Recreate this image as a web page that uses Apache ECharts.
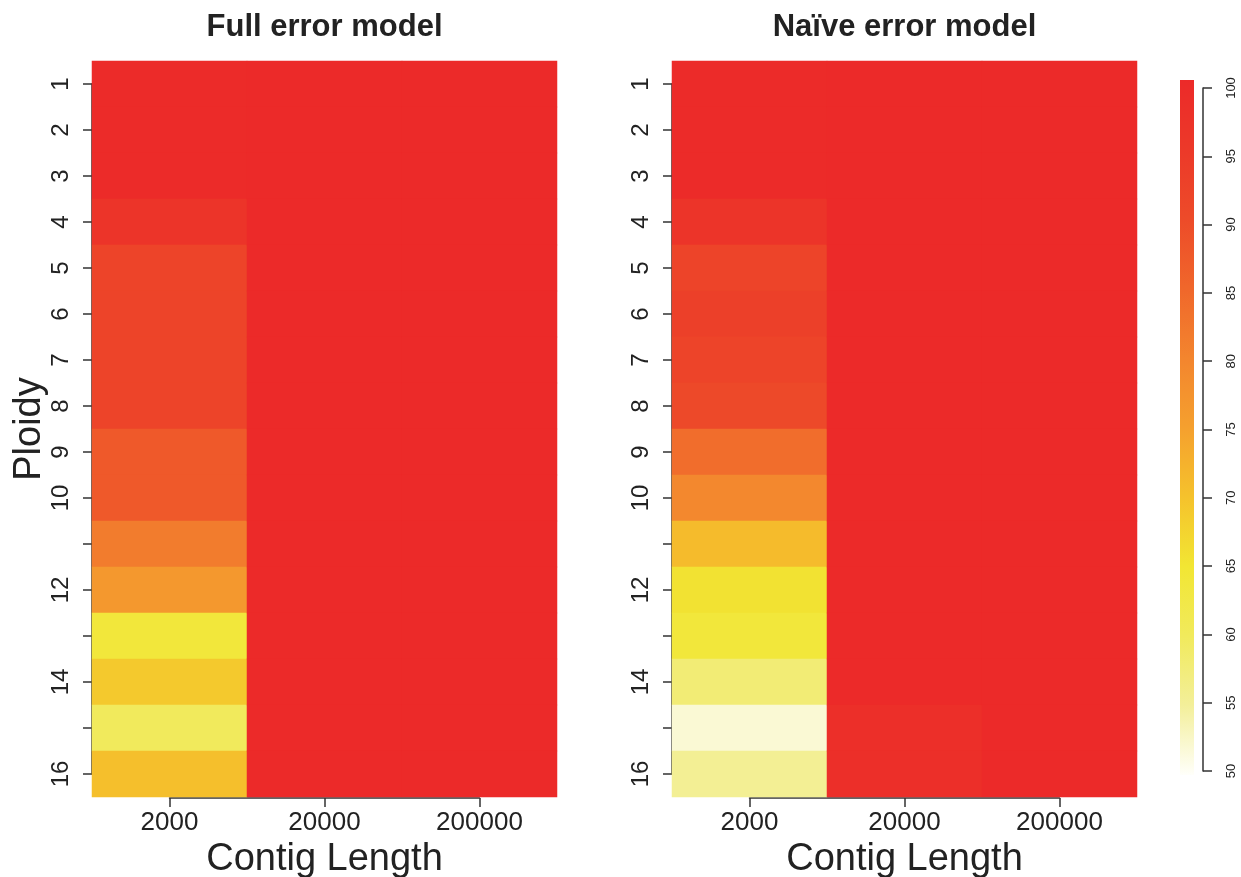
<!DOCTYPE html>
<html>
<head>
<meta charset="utf-8">
<title>Ploidy vs contig length</title>
<script src="https://cdn.jsdelivr.net/npm/echarts@6/dist/echarts.min.js"></script>
<style>
  html, body { margin: 0; padding: 0; background: #ffffff; }
  #chart { width: 1241px; height: 877px; }
</style>
</head>
<body>
<div id="chart"></div>
<script>
// Categories
const contigLengths = ['2000', '20000', '200000'];
const ploidyLevels = ['1', '2', '3', '4', '5', '6', '7', '8', '9', '10', '11', '12', '13', '14', '15', '16'];
const skippedPloidyLabels = ['11', '13', '15'];

// Accuracy (%) per ploidy, one array per contig length — full error model
const full2000   = [99.5, 99.5, 99.5, 96.5, 92, 92, 92, 92, 87.5, 87.5, 81.5, 76.5, 64, 69, 60, 70.5];
const full20000  = [100, 100, 100, 100, 100, 100, 100, 100, 100, 100, 100, 100, 100, 100, 100, 100];
const full200000 = [100, 100, 100, 100, 100, 100, 100, 100, 100, 100, 100, 100, 100, 100, 100, 100];

// Accuracy (%) per ploidy — naive error model
const naive2000   = [99.5, 99.5, 99.5, 96.5, 92, 93, 92, 90.5, 84, 79.5, 71, 65.5, 64, 58, 52, 55.5];
const naive20000  = [100, 100, 100, 100, 100, 100, 100, 100, 100, 100, 100, 100, 100, 100, 98.5, 98.5];
const naive200000 = [100, 100, 100, 100, 100, 100, 100, 100, 100, 100, 100, 100, 100, 100, 100, 100];

const panelTitles = ['Full error model', 'Naïve error model'];

// Colour ramp from 50 (pale) to 100 (red)
const rampColors = ['#fffffa', '#f3ef9a', '#f1ea5c', '#f2e633', '#f5c22c', '#f5a02e',
                    '#f3852e', '#f0672b', '#ed4b29', '#ec3929', '#ec2a29'];
const scaleMin = 50, scaleMax = 100, scaleStep = 5;

function toCells(columns) {
  const cells = [];
  columns.forEach((col, xi) => col.forEach((v, yi) => cells.push([xi, yi, v])));
  return cells;
}
const panelData = [
  toCells([full2000, full20000, full200000]),
  toCells([naive2000, naive20000, naive200000])
];

const FONT = '"Liberation Sans", Arial, Helvetica, sans-serif';
const TXT = '#222222';
const AXC = '#333333';

const plotTop = 61, plotW = 465, plotH = 736;
const panelLeft = [92, 672];
const colW = plotW / contigLengths.length;
const rowH = plotH / ploidyLevels.length;

const grid = [], xAxis = [], yAxis = [], series = [], title = [];
const fixedGrid = { containLabel: false, outerBoundsMode: 'none' };

panelLeft.forEach((L, p) => {
  // heatmap area
  grid.push(Object.assign({ left: L, top: plotTop, width: plotW, height: plotH }, fixedGrid));
  // axis frame spanning first to last tick
  grid.push(Object.assign({ left: L + colW / 2, top: plotTop + rowH / 2, width: plotW - colW, height: plotH - rowH }, fixedGrid));
  const hg = p * 2, ag = p * 2 + 1;

  xAxis.push({ gridIndex: hg, type: 'category', data: contigLengths, show: false });
  yAxis.push({ gridIndex: hg, type: 'category', data: ploidyLevels, inverse: true, show: false });

  xAxis.push({
    gridIndex: ag, type: 'category', data: contigLengths, boundaryGap: false,
    position: 'bottom', offset: rowH / 2 + 1,
    axisLine: { show: true, lineStyle: { color: AXC, width: 1.5 } },
    axisTick: { show: true, length: 9, interval: 0, lineStyle: { color: AXC, width: 1.5 } },
    axisLabel: { interval: 0, fontSize: 26, margin: 12, color: TXT, fontFamily: FONT },
    splitLine: { show: false },
    name: 'Contig Length', nameLocation: 'middle', nameGap: 42,
    nameTextStyle: { fontSize: 38, color: TXT, fontFamily: FONT }
  });
  yAxis.push({
    gridIndex: ag, type: 'category', data: ploidyLevels, inverse: true, boundaryGap: false,
    position: 'left', offset: colW / 2,
    axisLine: { show: true, lineStyle: { color: AXC, width: 1.5 } },
    axisTick: { show: true, length: 9, interval: 0, lineStyle: { color: AXC, width: 1.5 } },
    axisLabel: {
      interval: 0, rotate: 90, fontSize: 24, margin: 19, color: TXT, fontFamily: FONT,
      formatter: v => skippedPloidyLabels.includes(v) ? '' : v
    },
    splitLine: { show: false },
    name: p === 0 ? 'Ploidy' : '', nameLocation: 'middle', nameGap: 43,
    nameTextStyle: { fontSize: 38, color: TXT, fontFamily: FONT }
  });

  series.push({
    type: 'heatmap', xAxisIndex: hg, yAxisIndex: hg,
    data: panelData[p], progressive: 0, emphasis: { disabled: true }
  });

  title.push({
    text: panelTitles[p], left: L + plotW / 2, top: 12, textAlign: 'center', padding: 0,
    textStyle: { fontSize: 31, fontWeight: 'bold', color: TXT, fontFamily: FONT }
  });
});

// colour key: tick axis (grid 4) and gradient strip (grid 5)
grid.push(Object.assign({ left: 1180, top: 88, width: 14, height: 683 }, fixedGrid));
xAxis.push({ gridIndex: 4, type: 'category', data: [''], show: false });
yAxis.push({
  gridIndex: 4, type: 'value', min: scaleMin, max: scaleMax, interval: scaleStep,
  position: 'right', offset: 9,
  axisLine: { show: true, lineStyle: { color: AXC, width: 1.5 } },
  axisTick: { show: true, length: 9, lineStyle: { color: AXC, width: 1.5 } },
  axisLabel: { rotate: 90, fontSize: 13, margin: 22, color: TXT, fontFamily: FONT },
  splitLine: { show: false }
});

grid.push(Object.assign({ left: 1180, top: 80, width: 14, height: 695 }, fixedGrid));
xAxis.push({ gridIndex: 5, type: 'category', data: [''], show: false });
yAxis.push({ gridIndex: 5, type: 'value', min: scaleMin, max: scaleMax, show: false });

const gradientStops = rampColors.map((c, i) => ({ offset: 1 - i / (rampColors.length - 1), color: c }));
series.push({
  type: 'bar', xAxisIndex: 5, yAxisIndex: 5, stack: 'key', barWidth: '100%', silent: true,
  itemStyle: { color: 'rgba(0,0,0,0)' }, data: [scaleMin]
});
series.push({
  type: 'bar', xAxisIndex: 5, yAxisIndex: 5, stack: 'key', barWidth: '100%', silent: true,
  itemStyle: { color: { type: 'linear', x: 0, y: 0, x2: 0, y2: 1, colorStops: gradientStops.slice().reverse() } },
  data: [scaleMax - scaleMin]
});

const option = {
  backgroundColor: '#ffffff',
  animation: false,
  title,
  grid, xAxis, yAxis, series,
  visualMap: {
    type: 'continuous', min: scaleMin, max: scaleMax, seriesIndex: [0, 1],
    show: false, inRange: { color: rampColors }
  }
};

const chart = echarts.init(document.getElementById('chart'), null, { renderer: 'canvas' });
chart.setOption(option);
</script>
</body>
</html>
